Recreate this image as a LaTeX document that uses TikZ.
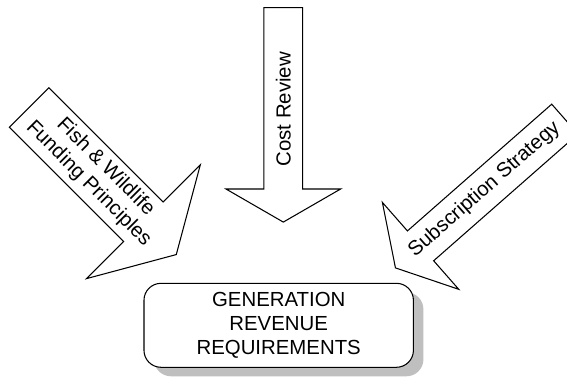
\documentclass[tikz,border=0pt]{standalone}
\usepackage{fontspec}
\setmainfont{Liberation Sans}
\usetikzlibrary{shapes.arrows, shadows}

\begin{document}
\begin{tikzpicture}[
    x=0.02cm, y=-0.02cm,
    font=\fontsize{11.6pt}{13.5pt}\selectfont,
    blockarrow/.style n args={3}{
        single arrow, draw=black, fill=white, line width=0.6pt,
        single arrow head indent=0pt, single arrow tip angle=120,
        minimum width=0pt, minimum height=#1,
        single arrow head extend=#2, inner xsep=0pt, inner ysep=#3,
        align=center, anchor=tip
    },
    resultbox/.style={
        rectangle, rounded corners=0.34cm, draw=black, fill=white,
        line width=0.6pt, minimum width=5.39cm, minimum height=1.68cm,
        align=center,
        drop shadow={shadow xshift=0.2cm, shadow yshift=-0.18cm,
                     fill=black!25, opacity=1}
    },
]

\useasboundingbox (0,0) rectangle (567,377);
\clip (0,0) rectangle (567,377);

% ============================================================
% Inputs (placed by their tips)
% ============================================================

\node[blockarrow={4.16cm}{1.05cm}{3.45pt}, rotate=-45] (fish) at (176.7,255)
    {Fish \& Wildlife\\Funding Principles};

\node[blockarrow={4.29cm}{0.76cm}{6.45pt}, rotate=90, shape border rotate=180] (cost) at (283.3,222.7)
    {Cost Review};

\node[blockarrow={4.51cm}{0.76cm}{5.6pt}, rotate=41.3, shape border rotate=180] (subs) at (395,268.3)
    {Subscription Strategy};

% ============================================================
% Result
% ============================================================

\node[resultbox] (gen) at (278.7,325.3) {GENERATION\\REVENUE\\REQUIREMENTS};

\end{tikzpicture}
\end{document}
